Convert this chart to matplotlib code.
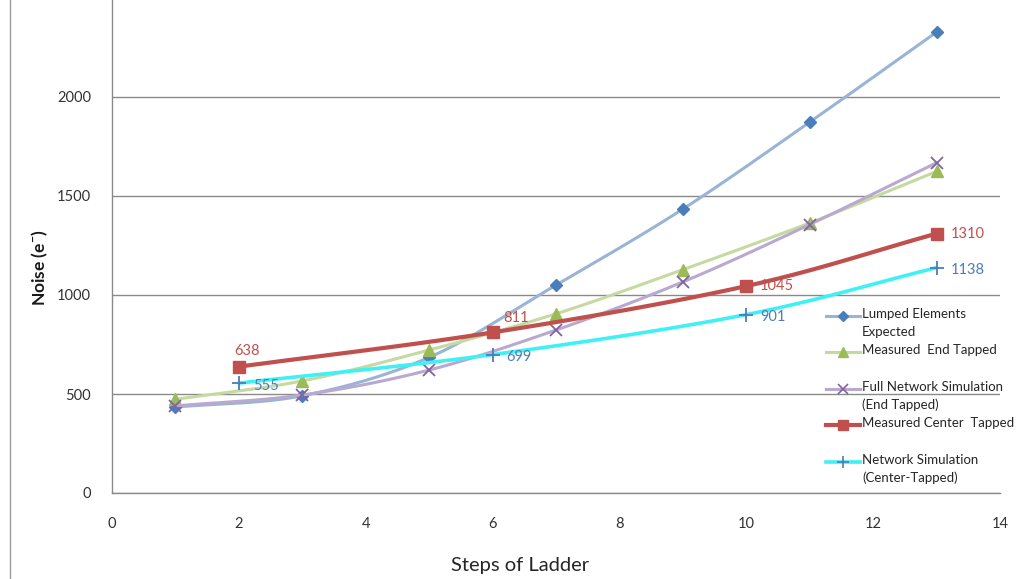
import numpy as np
import matplotlib
matplotlib.use("Agg")
import matplotlib.pyplot as plt
from matplotlib.lines import Line2D

plt.rcParams['font.family'] = ['Lato', 'DejaVu Sans']
plt.rcParams['mathtext.default'] = 'regular'

# data
steps_odd = [1, 3, 5, 7, 9, 11, 13]
lumped = [434, 491, 685, 1050, 1434, 1873, 2328]
measured_end = [473, 566, 722, 905, 1128, 1364, 1624]
full_sim = [440, 495, 621, 823, 1066, 1356, 1668]

steps_center = [2, 6, 10, 13]
measured_center = [638, 811, 1045, 1310]
network_sim = [555, 699, 901, 1138]

x_ticks = [0, 2, 4, 6, 8, 10, 12, 14]
y_ticks = [0, 500, 1000, 1500, 2000]


def smooth(xs, ys, n=30):
    # catmull-rom style smoothing, like excel's "smoothed line"
    xs = np.asarray(xs, float)
    ys = np.asarray(ys, float)
    px = np.concatenate([[2 * xs[0] - xs[1]], xs, [2 * xs[-1] - xs[-2]]])
    py = np.concatenate([[2 * ys[0] - ys[1]], ys, [2 * ys[-1] - ys[-2]]])
    outx, outy = [], []
    t = np.linspace(0, 1, n)
    for i in range(1, len(px) - 2):
        for p, out in ((px, outx), (py, outy)):
            p0, p1, p2, p3 = p[i - 1], p[i], p[i + 1], p[i + 2]
            c1 = p1 + (p2 - p0) / 6
            c2 = p2 - (p3 - p1) / 6
            seg = ((1 - t) ** 3 * p1 + 3 * (1 - t) ** 2 * t * c1
                   + 3 * (1 - t) * t ** 2 * c2 + t ** 3 * p2)
            out.extend(seg if i == 1 else seg[1:])
    return np.array(outx), np.array(outy)


W, H = 1027, 579
fig = plt.figure(figsize=(W / 100, H / 100), dpi=100)
ymax = 2500
ax_left, ax_right, ax_bottom = 112 / W, 1000 / W, 1 - 493 / H
px_per_unit = 396 / 2000
ax_top_px = 493 - ymax * px_per_unit
ax = fig.add_axes([ax_left, ax_bottom, ax_right - ax_left, (493 - ax_top_px) / H])
ax.set_xlim(0, 14)
ax.set_ylim(0, ymax)

grid_c = '#8a8a8a'
for s in ['top', 'right']:
    ax.spines[s].set_visible(False)
for s in ['left', 'bottom']:
    ax.spines[s].set_color(grid_c)
    ax.spines[s].set_linewidth(1)
ax.set_xticks(x_ticks)
ax.set_yticks(y_ticks)
ax.yaxis.grid(True, color=grid_c, lw=1)
ax.set_axisbelow(True)
ax.tick_params(length=0, labelsize=10.5, colors='#333333')
ax.tick_params(axis='x', pad=17)
ax.tick_params(axis='y', pad=15)

series = [
    (steps_odd, lumped, '#9ab4d6', 'D', '#4a7ebb', 6, 2.2, 'Lumped Elements\nExpected'),
    (steps_odd, measured_end, '#c6d9a0', '^', '#9bbb59', 8, 2.2, 'Measured  End Tapped'),
    (steps_odd, full_sim, '#b9a9d0', 'x', '#8064a2', 9, 2.2, 'Full Network Simulation\n(End Tapped)'),
    (steps_center, measured_center, '#c0504d', 's', '#c0504d', 8, 3.0, 'Measured Center  Tapped'),
    (steps_center, network_sim, '#3ff0f5', '+', '#4a7ebb', 10, 2.6, 'Network Simulation\n(Center-Tapped)'),
]

for xs, ys, lc, mk, mc, ms, lw, lab in series:
    sx, sy = smooth(xs, ys)
    ax.plot(sx, sy, color=lc, lw=lw, solid_capstyle='round')
    ax.plot(xs, ys, ls='none', marker=mk, color=mc, ms=ms, mew=1.3 if mk in 'x+' else 1)

# data labels
for x, v in zip(steps_center, measured_center):
    if x == 2:
        ax.annotate(str(v), (x, v), xytext=(-3, 6), textcoords='offset points',
                    color='#c0504d', fontsize=10.5, ha='left', va='bottom')
    elif x == 6:
        ax.annotate(str(v), (x, v), xytext=(17, 5), textcoords='offset points',
                    color='#c0504d', fontsize=10.5, ha='center', va='bottom')
    else:
        ax.annotate(str(v), (x, v), xytext=(10, 0), textcoords='offset points',
                    color='#c0504d', fontsize=10.5, ha='left', va='center')
for x, v in zip(steps_center, network_sim):
    ax.annotate(str(v), (x, v), xytext=(10, -2), textcoords='offset points',
                color='#4a7ebb', fontsize=10.5, ha='left', va='center')

fig.text(520 / W, 1 - 565 / H, 'Steps of Ladder', fontsize=14.5, color='#262626',
         ha='center', va='center')
fig.text(40 / W, 1 - 268 / H, 'Noise (e$^{-}$)', rotation=90, fontsize=12.5,
         fontweight='bold', ha='center', va='center', color='#1a1a1a')

# legend drawn by hand to get excel's layout
leg_y = [316, 352, 389, 425, 462]
for (xs, ys, lc, mk, mc, ms, lw, lab), yy in zip(series, leg_y):
    fy = 1 - yy / H
    fig.add_artist(Line2D([826 / W, 860 / W], [fy, fy], color=lc, lw=lw))
    fig.add_artist(Line2D([843 / W], [fy], marker=mk, color=mc, ms=ms * 0.85,
                          mew=1.2 if mk in 'x+' else 1))
    fig.text(862 / W, fy + 8 / H, lab, fontsize=9.5, color='#262626', ha='left',
             va='top', linespacing=1.55)

# outer frame line on the left
fig.add_artist(Line2D([10 / W, 10 / W], [0, 1], color='#9a9a9a', lw=1))

fig.savefig('out.png', dpi=100)
